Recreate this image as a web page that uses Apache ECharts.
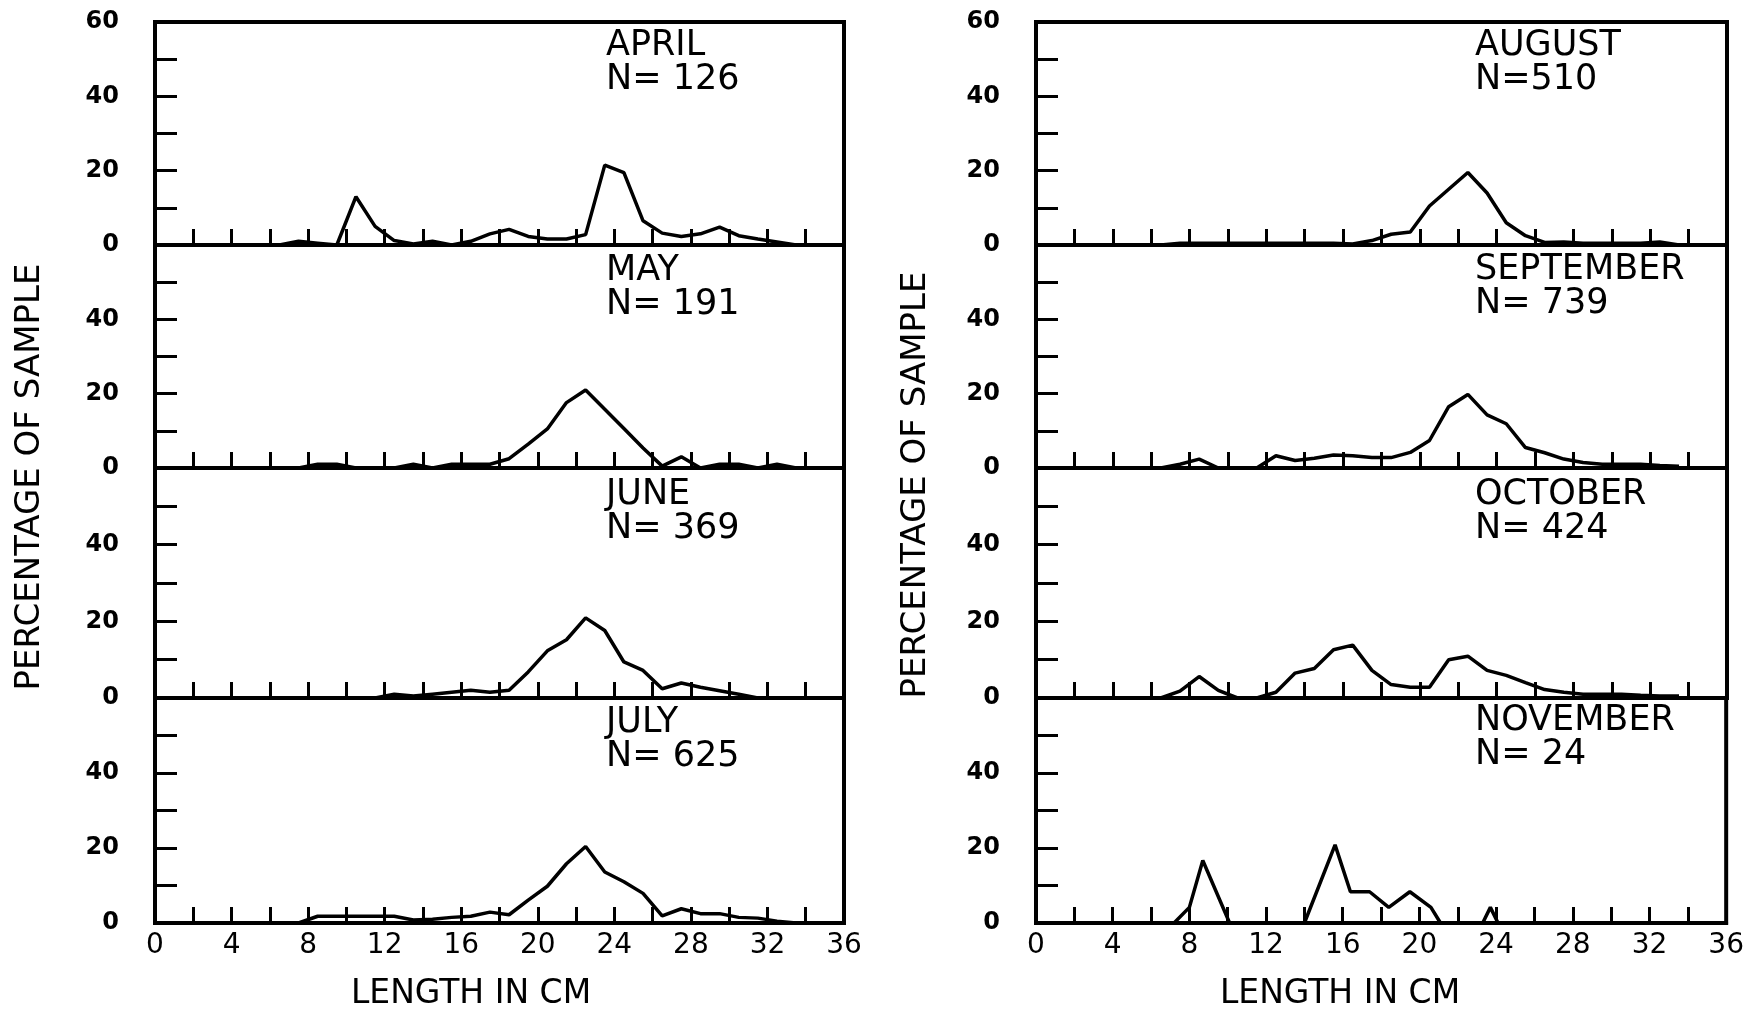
<!DOCTYPE html>
<html>
<head>
<meta charset="utf-8">
<script src="https://cdn.jsdelivr.net/npm/echarts@6/dist/echarts.min.js"></script>
<style>
html,body{margin:0;padding:0;background:#fff;}
#chart{width:1747px;height:1012px;}
</style>
</head>
<body>
<div id="chart"></div>
<script>
// ---- data (length class midpoints in cm, percentage of sample) ----
const lengthMids = [6.5,7.5,8.5,9.5,10.5,11.5,12.5,13.5,14.5,15.5,16.5,17.5,18.5,19.5,20.5,21.5,22.5,23.5,24.5,25.5,26.5,27.5,28.5,29.5,30.5,31.5,32.5,33.5];

const aprilPct     = [0,1,0.5,0,13,5,1.2,0.3,1,0,1,3,4.2,2.3,1.6,1.6,2.8,21.5,19.5,6.5,3.2,2.3,3,4.8,2.5,1.6,0.8,0];
const mayPct       = [0,0,1,1,0,0,0,1,0,1,1,1,2.5,6.4,10.5,17.6,21,15.8,10.6,5.4,0.5,3,0,1,1,0,1,0];
const junePct      = [0,0,0,0,0,0,1,0.5,1,1.5,2,1.5,2,6.8,12.3,15.2,20.9,17.6,9.4,7.2,2.4,3.9,2.8,1.9,1,0,0,0];
const julyPct      = [0,0,1.8,1.8,1.8,1.8,1.8,0.8,1,1.5,1.8,2.9,2.2,6.1,9.8,15.8,20.4,13.6,11,7.9,1.9,3.8,2.5,2.5,1.5,1.3,0.5,0];
const augustPct    = [0,0.5,0.5,0.5,0.5,0.5,0.5,0.5,0.5,0.5,0.3,1.2,2.9,3.5,10.5,15,19.5,14,6,2.5,0.7,0.8,0.5,0.5,0.5,0.5,0.8,0];
const septemberPct = [0,1,2.4,0,0,0,3.3,2,2.6,3.5,3.3,2.8,2.8,4.2,7.4,16.5,19.8,14.3,11.9,5.5,4.1,2.4,1.5,1,1,1,0.7,0.5];
const octoberPct   = [0,1.8,5.6,2,0,0,1.5,6.5,7.7,12.6,13.8,7.2,3.5,2.8,2.8,10,10.9,7.2,5.9,4,2.2,1.5,1,1,1,0.7,0.5,0.5];

const novemberLengths = [7.2,8.0,8.7,10.1,14.0,15.6,16.4,17.4,18.4,19.5,20.6,21.1,23.3,23.7,24.1];
const novemberPct     = [0,4.17,16.67,0,0,20.83,8.33,8.33,4.17,8.33,4.17,0,0,4.17,0];

const monthNames  = ['APRIL','MAY','JUNE','JULY','AUGUST','SEPTEMBER','OCTOBER','NOVEMBER'];
const sampleSizes = ['N= 126','N= 191','N= 369','N= 625','N=510','N= 739','N= 424','N= 24'];
const xAxisTitle = 'LENGTH IN CM';
const yAxisTitle = 'PERCENTAGE OF SAMPLE';

// ---- layout ----
const colLeft  = [155, 1036];
const colWidth = [689, 691];
const rowTop    = [22, 245, 468, 698];
const rowHeight = [223, 223, 230, 225];
const titleLeft = [606, 1475];
const titleTop  = [[29, 254, 478, 706], [29, 253, 478, 704]];

const FONT = 'DejaVu Sans';

function pairs(xs, ys){ return xs.map((x,i)=>[x, ys[i]]); }
const seriesData = [
  pairs(lengthMids, aprilPct),
  pairs(lengthMids, mayPct),
  pairs(lengthMids, junePct),
  pairs(lengthMids, julyPct),
  pairs(lengthMids, augustPct),
  pairs(lengthMids, septemberPct),
  pairs(lengthMids, octoberPct),
  pairs(novemberLengths, novemberPct)
];

const grids = [], xAxes = [], yAxes = [], series = [], titles = [];
for (let i = 0; i < 8; i++) {
  const col = i < 4 ? 0 : 1, row = i % 4;
  const isBottom = row === 3, isTop = row === 0;
  grids.push({
    left: colLeft[col], width: colWidth[col],
    top: rowTop[row], height: rowHeight[row],
    show: true, borderColor: '#000', borderWidth: 4, containLabel: false
  });
  xAxes.push({
    gridIndex: i, type: 'value', min: 0, max: 36, interval: 2,
    axisLine: { show: true, onZero: false, lineStyle: { color: '#000', width: 4 } },
    axisTick: { show: true, inside: true, length: 16, lineStyle: { color: '#000', width: 3 } },
    axisLabel: {
      show: isBottom, margin: 9, color: '#000', fontSize: 28, fontFamily: FONT,
      formatter: v => (v % 4 === 0 ? String(v) : '')
    },
    splitLine: { show: false }
  });
  yAxes.push({
    gridIndex: i, type: 'value', min: 0, max: 60, interval: 10,
    axisLine: { show: true, lineStyle: { color: '#000', width: 4 } },
    axisTick: { show: true, inside: true, length: 22, lineStyle: { color: '#000', width: 3 } },
    axisLabel: {
      show: true, margin: 36, color: '#000', fontSize: 24, fontWeight: 'bold', fontFamily: FONT,
      formatter: v => (v % 20 === 0 && (v < 60 || isTop) ? String(v) : '')
    },
    splitLine: { show: false }
  });
  series.push({
    type: 'line', xAxisIndex: i, yAxisIndex: i, data: seriesData[i],
    symbol: 'none', silent: true,
    lineStyle: { color: '#000', width: 3.5 }
  });
  titles.push({
    text: monthNames[i] + '\n' + sampleSizes[i],
    left: titleLeft[col], top: titleTop[col][row], padding: 0,
    textStyle: { fontSize: 35, lineHeight: 34, fontWeight: 'normal', fontFamily: FONT, color: '#000' }
  });
}

const chart = echarts.init(document.getElementById('chart'), null, { renderer: 'canvas' });
chart.setOption({
  backgroundColor: '#fff',
  animation: false,
  title: titles,
  grid: grids,
  xAxis: xAxes,
  yAxis: yAxes,
  series: series,
  graphic: [
    { type: 'text', x: 30, y: 477, rotation: Math.PI / 2,
      style: { text: yAxisTitle, fill: '#000', font: '34px "DejaVu Sans"', textAlign: 'center', textVerticalAlign: 'middle' } },
    { type: 'text', x: 916, y: 485, rotation: Math.PI / 2,
      style: { text: yAxisTitle, fill: '#000', font: '34px "DejaVu Sans"', textAlign: 'center', textVerticalAlign: 'middle' } },
    { type: 'text', x: 471, y: 994,
      style: { text: xAxisTitle, fill: '#000', font: '33px "DejaVu Sans"', textAlign: 'center', textVerticalAlign: 'middle' } },
    { type: 'text', x: 1340, y: 994,
      style: { text: xAxisTitle, fill: '#000', font: '33px "DejaVu Sans"', textAlign: 'center', textVerticalAlign: 'middle' } }
  ]
});
</script>
</body>
</html>
